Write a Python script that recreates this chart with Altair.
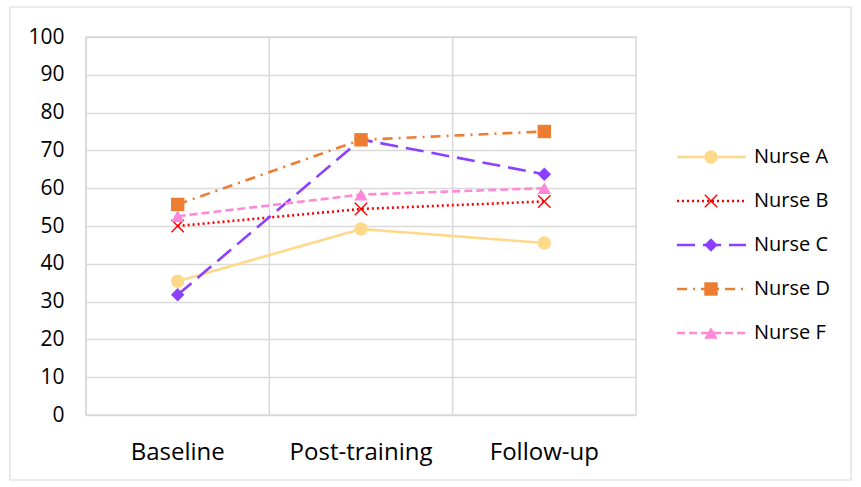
import altair as alt
import pandas as pd

# Survey phases and per-nurse scores
phases = ["Baseline", "Post-training", "Follow-up"]
nurses = ["Nurse A", "Nurse B", "Nurse C", "Nurse D", "Nurse F"]
nurse_a = [35.4, 49.2, 45.5]
nurse_b = [50.0, 54.5, 56.5]
nurse_c = [31.8, 72.9, 63.7]
nurse_d = [55.7, 72.8, 75.0]
nurse_f = [52.6, 58.3, 60.0]

# Series styling
colors = ["#FFD98A", "#FF0000", "#8C3FFF", "#ED7D31", "#FF88D8"]
dashes = [[1, 0], [2, 3], [18, 8], [10, 6, 2, 6], [8, 4]]
x_shape = ("M-1,-0.85L-0.85,-1L0,-0.15L0.85,-1L1,-0.85L0.15,0L1,0.85L0.85,1"
           "L0,0.15L-0.85,1L-1,0.85L-0.15,0Z")
shapes = ["circle", x_shape, "diamond", "square", "triangle-up"]
sizes = [180, 180, 160, 190, 170]

series = [nurse_a, nurse_b, nurse_c, nurse_d, nurse_f]
rows = []
for name, vals in zip(nurses, series):
    for ph, v in zip(phases, vals):
        rows.append({"nurse": name, "phase": ph, "score": v})
df = pd.DataFrame(rows)
legend_df = pd.DataFrame({"nurse": nurses})
phase_df = pd.DataFrame({"phase": phases})

FONT = "Open Sans"
GRID = "#D9D9D9"

color_enc = alt.Color("nurse:N", scale=alt.Scale(domain=nurses, range=colors), legend=None)
dash_enc = alt.StrokeDash("nurse:N", scale=alt.Scale(domain=nurses, range=dashes), legend=None)
shape_enc = alt.Shape("nurse:N", scale=alt.Scale(domain=nurses, range=shapes), legend=None)
size_enc = alt.Size("nurse:N", scale=alt.Scale(domain=nurses, range=sizes), legend=None)

x_scale = alt.Scale(type="band", domain=phases, paddingInner=0, paddingOuter=0)
x_axis = alt.Axis(title=None, labelAngle=0, labelFontSize=24, labelFont=FONT,
                  labelColor="#000000", labelPadding=25, ticks=False, domain=False,
                  grid=False, bandPosition=0.5)
x_enc = alt.X("phase:N", sort=phases, scale=x_scale, axis=x_axis)
y_enc = alt.Y(
    "score:Q",
    scale=alt.Scale(domain=[0, 100], nice=False),
    axis=alt.Axis(title=None, values=list(range(0, 101, 10)), labelFontSize=21,
                  labelFont=FONT, labelColor="#000000", labelPadding=22, ticks=False,
                  domain=False, gridColor=GRID, gridWidth=1.5),
)

# Outer chart frame
frame = alt.Chart(pd.DataFrame({"k": [0]})).mark_rect(
    fill=None, stroke=GRID, strokeWidth=1.2
).encode(x=alt.value(-76), x2=alt.value(765), y=alt.value(-30), y2=alt.value(443))

# Vertical gridlines at the category boundaries
vgrid = alt.Chart(phase_df).mark_rule(color=GRID, strokeWidth=1.5).encode(
    x=alt.X("phase:N", sort=phases, bandPosition=0, scale=x_scale, axis=x_axis)
)

lines = alt.Chart(df).mark_line(strokeWidth=2.6).encode(
    x=x_enc, y=y_enc, color=color_enc, strokeDash=dash_enc, detail="nurse:N"
)
points = alt.Chart(df).mark_point(filled=True, opacity=1).encode(
    x=x_enc, y=y_enc, color=color_enc, shape=shape_enc, size=size_enc
)

# Legend: sample line, marker and label per nurse
leg_y = alt.Y("nurse:N", sort=nurses, axis=None,
              scale=alt.Scale(type="point", domain=nurses, range=[120, 296], padding=0))
leg_lines = alt.Chart(legend_df).mark_rule(strokeWidth=2.6).encode(
    x=alt.value(591), x2=alt.value(660), y=leg_y, color=color_enc, strokeDash=dash_enc
)
leg_points = alt.Chart(legend_df).mark_point(filled=True, opacity=1).encode(
    x=alt.value(625), y=leg_y, color=color_enc, shape=shape_enc, size=size_enc
)
leg_text = alt.Chart(legend_df).mark_text(
    align="left", baseline="middle", fontSize=20, font=FONT, color="#000000"
).encode(x=alt.value(668), y=leg_y, text="nurse:N")

plot_layer = alt.layer(frame, vgrid, lines, points)
legend_layer = alt.layer(leg_lines, leg_points, leg_text)

chart = alt.layer(plot_layer, legend_layer).resolve_scale(y="independent").properties(
    width=550,
    height=378,
    padding={"left": 86, "top": 37, "right": 225, "bottom": 72},
    autosize=alt.AutoSizeParams(type="none"),
    background="#FFFFFF",
).configure_view(stroke=GRID, strokeWidth=1.5)

chart.save("out.html", embed_options={"renderer": "svg", "actions": False})
